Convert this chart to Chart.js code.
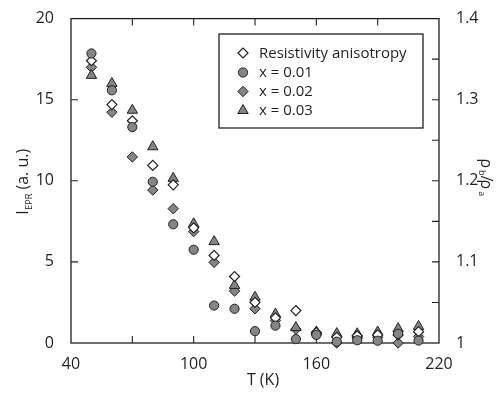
<!DOCTYPE html>
<html><head><meta charset="utf-8">
<script src="https://cdn.jsdelivr.net/npm/chart.js@4/dist/chart.umd.min.js"></script>
<style>html,body{margin:0;padding:0;background:#fff;}#wrap{width:499px;height:393px;position:relative;}</style>
</head><body><div id="wrap"><canvas id="c"></canvas></div>
<script>
// ---- data ----
const temperatures = [50,60,70,80,90,100,110,120,130,140,150,160,170,180,190,200,210];
// rho_b / rho_a (right axis)
const resistivityAnisotropy = [1.348,1.294,1.274,1.219,1.195,1.142,1.108,1.082,1.050,1.031,1.040,1.013,1.007,1.009,1.010,1.010,1.014];
// I_EPR (a. u.) (left axis)
const eprX001 = [17.85,15.58,13.31,9.94,7.32,5.75,2.31,2.11,0.73,1.07,0.24,0.50,0.08,0.17,0.14,0.57,0.15];
const eprX002 = [17.0,14.23,11.47,9.43,8.28,6.87,4.97,3.20,2.11,1.39,0.85,0.55,0.0,0.30,0.35,0.0,0.40];
const eprX003 = [16.5,16.0,14.35,12.1,10.15,7.35,6.25,3.55,2.82,1.78,0.95,0.68,0.58,0.57,0.68,0.88,1.02];
const seriesLabels = ['Resistivity anisotropy','x = 0.01','x = 0.02','x = 0.03'];
const xTickLabels = [40,100,160,220];
const xMinorTicks = [70,100,130,160,190];
const leftTickValues = [0,5,10,15,20];
const leftMinorTicks = [5,10,15];
const rightTickValues = [1,1.1,1.2,1.3,1.4];
const rightMinorTicks = [1.05,1.1,1.15,1.2,1.25,1.3,1.35];

const INK = '#231f20';
const GRAY = '#858585';
const FONT = "'Open Sans', 'DejaVu Sans', sans-serif";

function pts(ys){ return temperatures.map((t,i)=>({x:t,y:ys[i]})); }

const datasets = [
  {label:seriesLabels[0], data:pts(resistivityAnisotropy), yAxisID:'y2', pointStyle:'rectRot', pointRadius:5,
   backgroundColor:'#ffffff', borderColor:INK, borderWidth:1.2, order:1},
  {label:seriesLabels[1], data:pts(eprX001), yAxisID:'y', pointStyle:'circle', pointRadius:4.6,
   backgroundColor:GRAY, borderColor:INK, borderWidth:1, order:0},
  {label:seriesLabels[2], data:pts(eprX002), yAxisID:'y', pointStyle:'rectRot', pointRadius:5.2,
   backgroundColor:GRAY, borderColor:INK, borderWidth:1, order:3},
  {label:seriesLabels[3], data:pts(eprX003), yAxisID:'y', pointStyle:'triangle', pointRadius:6,
   backgroundColor:GRAY, borderColor:INK, borderWidth:1, order:2},
];
datasets.forEach(d=>{ d.showLine=false; d.clip=false; d.pointHoverRadius=d.pointRadius; });

function drawMarker(ctx, style, r, x, y, fill, bw){
  ctx.save();
  ctx.fillStyle = fill; ctx.strokeStyle = INK; ctx.lineWidth = bw;
  ctx.beginPath();
  if (style==='circle'){ ctx.arc(x,y,r,0,Math.PI*2); }
  else if (style==='rectRot'){ ctx.moveTo(x-r,y); ctx.lineTo(x,y-r); ctx.lineTo(x+r,y); ctx.lineTo(x,y+r); ctx.closePath(); }
  else if (style==='triangle'){
    const a = 2*Math.PI/3;
    ctx.moveTo(x, y-r); ctx.lineTo(x+Math.sin(a)*r, y-Math.cos(a)*r); ctx.lineTo(x+Math.sin(2*a)*r, y-Math.cos(2*a)*r); ctx.closePath();
  }
  ctx.fill(); ctx.stroke();
  ctx.restore();
}

const framePlugin = {
  id:'frame',
  beforeDatasetsDraw(chart){
    const {ctx, chartArea:a, scales} = chart;
    ctx.save();
    ctx.strokeStyle = INK; ctx.lineWidth = 1.3;
    ctx.strokeRect(a.left, a.top, a.right-a.left, a.bottom-a.top);
    ctx.lineWidth = 1.1;
    const L = 7;
    ctx.beginPath();
    xMinorTicks.forEach(v=>{ const px = scales.x.getPixelForValue(v);
      ctx.moveTo(px, a.bottom); ctx.lineTo(px, a.bottom-L);
      ctx.moveTo(px, a.top); ctx.lineTo(px, a.top+L); });
    leftMinorTicks.forEach(v=>{ const py = scales.y.getPixelForValue(v);
      ctx.moveTo(a.left, py); ctx.lineTo(a.left+L, py); });
    rightMinorTicks.forEach(v=>{ const py = scales.y2.getPixelForValue(v);
      ctx.moveTo(a.right, py); ctx.lineTo(a.right-L, py); });
    ctx.stroke();
    ctx.restore();
  },
  afterDatasetsDraw(chart){
    const {ctx} = chart;
    // legend box
    const bx=219, by=34, bw=204, bh=94;
    ctx.save();
    ctx.fillStyle='#ffffff'; ctx.fillRect(bx,by,bw,bh);
    ctx.strokeStyle=INK; ctx.lineWidth=1.3; ctx.strokeRect(bx,by,bw,bh);
    ctx.font = "15px " + FONT; ctx.fillStyle = INK; ctx.textBaseline='middle'; ctx.textAlign='left';
    const rows=[53,72.5,91.5,110.5];
    chart.data.datasets.forEach((d,i)=>{
      drawMarker(ctx, d.pointStyle, d.pointRadius, 243, rows[i], d.backgroundColor, d.borderWidth);
      ctx.fillText(d.label, 259, rows[i]+0.5);
    });
    ctx.restore();
  },
  afterDraw(chart){
    const {ctx, chartArea:a} = chart;
    ctx.save();
    ctx.fillStyle = INK;
    // x title
    ctx.font = "16px " + FONT; ctx.textAlign='center'; ctx.textBaseline='middle';
    ctx.fillText('T (K)', 263, 380);
    // left title: I_EPR (a. u.)
    ctx.save();
    ctx.translate(22, 182); ctx.rotate(-Math.PI/2);
    const big = "16px " + FONT, small = "9px " + FONT;
    ctx.textBaseline='alphabetic'; ctx.textAlign='left';
    ctx.font=big; const w1 = ctx.measureText('I').width;
    ctx.font=small; const w2 = ctx.measureText('EPR').width;
    ctx.font=big; const w3 = ctx.measureText(' (a. u.)').width;
    let x0 = -(w1+w2+w3)/2;
    ctx.font=big; ctx.fillText('I', x0, 5.5);
    ctx.font=small; ctx.fillText('EPR', x0+w1+0.5, 9.5);
    ctx.font=big; ctx.fillText(' (a. u.)', x0+w1+w2+0.5, 5.5);
    ctx.restore();
    // right title: rho_b / rho_a
    ctx.save();
    ctx.translate(490, 181); ctx.rotate(Math.PI/2);
    const parts = [['ρ',big,0],['b',small,4],['/',big,0],['ρ',big,0],['a',small,4]];
    let tw = 0; parts.forEach(p=>{ ctx.font=p[1]; tw += ctx.measureText(p[0]).width; });
    let xx = -tw/2;
    parts.forEach(p=>{ ctx.font=p[1]; ctx.fillText(p[0], xx, 4 + p[2]); xx += ctx.measureText(p[0]).width; });
    ctx.restore();
    ctx.restore();
  }
};

const tickFont = {family: FONT, size: 16};
new Chart(document.getElementById('c'), {
  type:'scatter',
  data:{datasets},
  options:{
    responsive:true, maintainAspectRatio:false, animation:false, devicePixelRatio:1,
    layout:{padding:{top:17,left:0,right:0,bottom:0}},
    plugins:{legend:{display:false}, tooltip:{enabled:false}},
    events:[],
    scales:{
      x:{type:'linear', position:'bottom', min:40, max:220,
         grid:{display:false}, border:{display:false},
         afterBuildTicks(s){ s.ticks = xTickLabels.map(v=>({value:v})); },
         ticks:{autoSkip:false, maxRotation:0, padding:4, color:INK, font:tickFont, callback:v=>String(v)},
         afterFit(s){ s.height = 50; }},
      y:{type:'linear', position:'left', min:0, max:20,
         grid:{display:false}, border:{display:false},
         afterBuildTicks(s){ s.ticks = leftTickValues.map(v=>({value:v})); },
         ticks:{padding:9, color:INK, font:tickFont, callback:v=>String(v)},
         afterFit(s){ s.width = 71; }},
      y2:{type:'linear', position:'right', min:1, max:1.4,
         grid:{display:false}, border:{display:false},
         afterBuildTicks(s){ s.ticks = rightTickValues.map(v=>({value:v})); },
         ticks:{padding:9, color:INK, font:tickFont, callback:v=>String(Math.round(v*10)/10)},
         afterFit(s){ s.width = 60; }}
    }
  },
  plugins:[framePlugin]
});
</script></body></html>
